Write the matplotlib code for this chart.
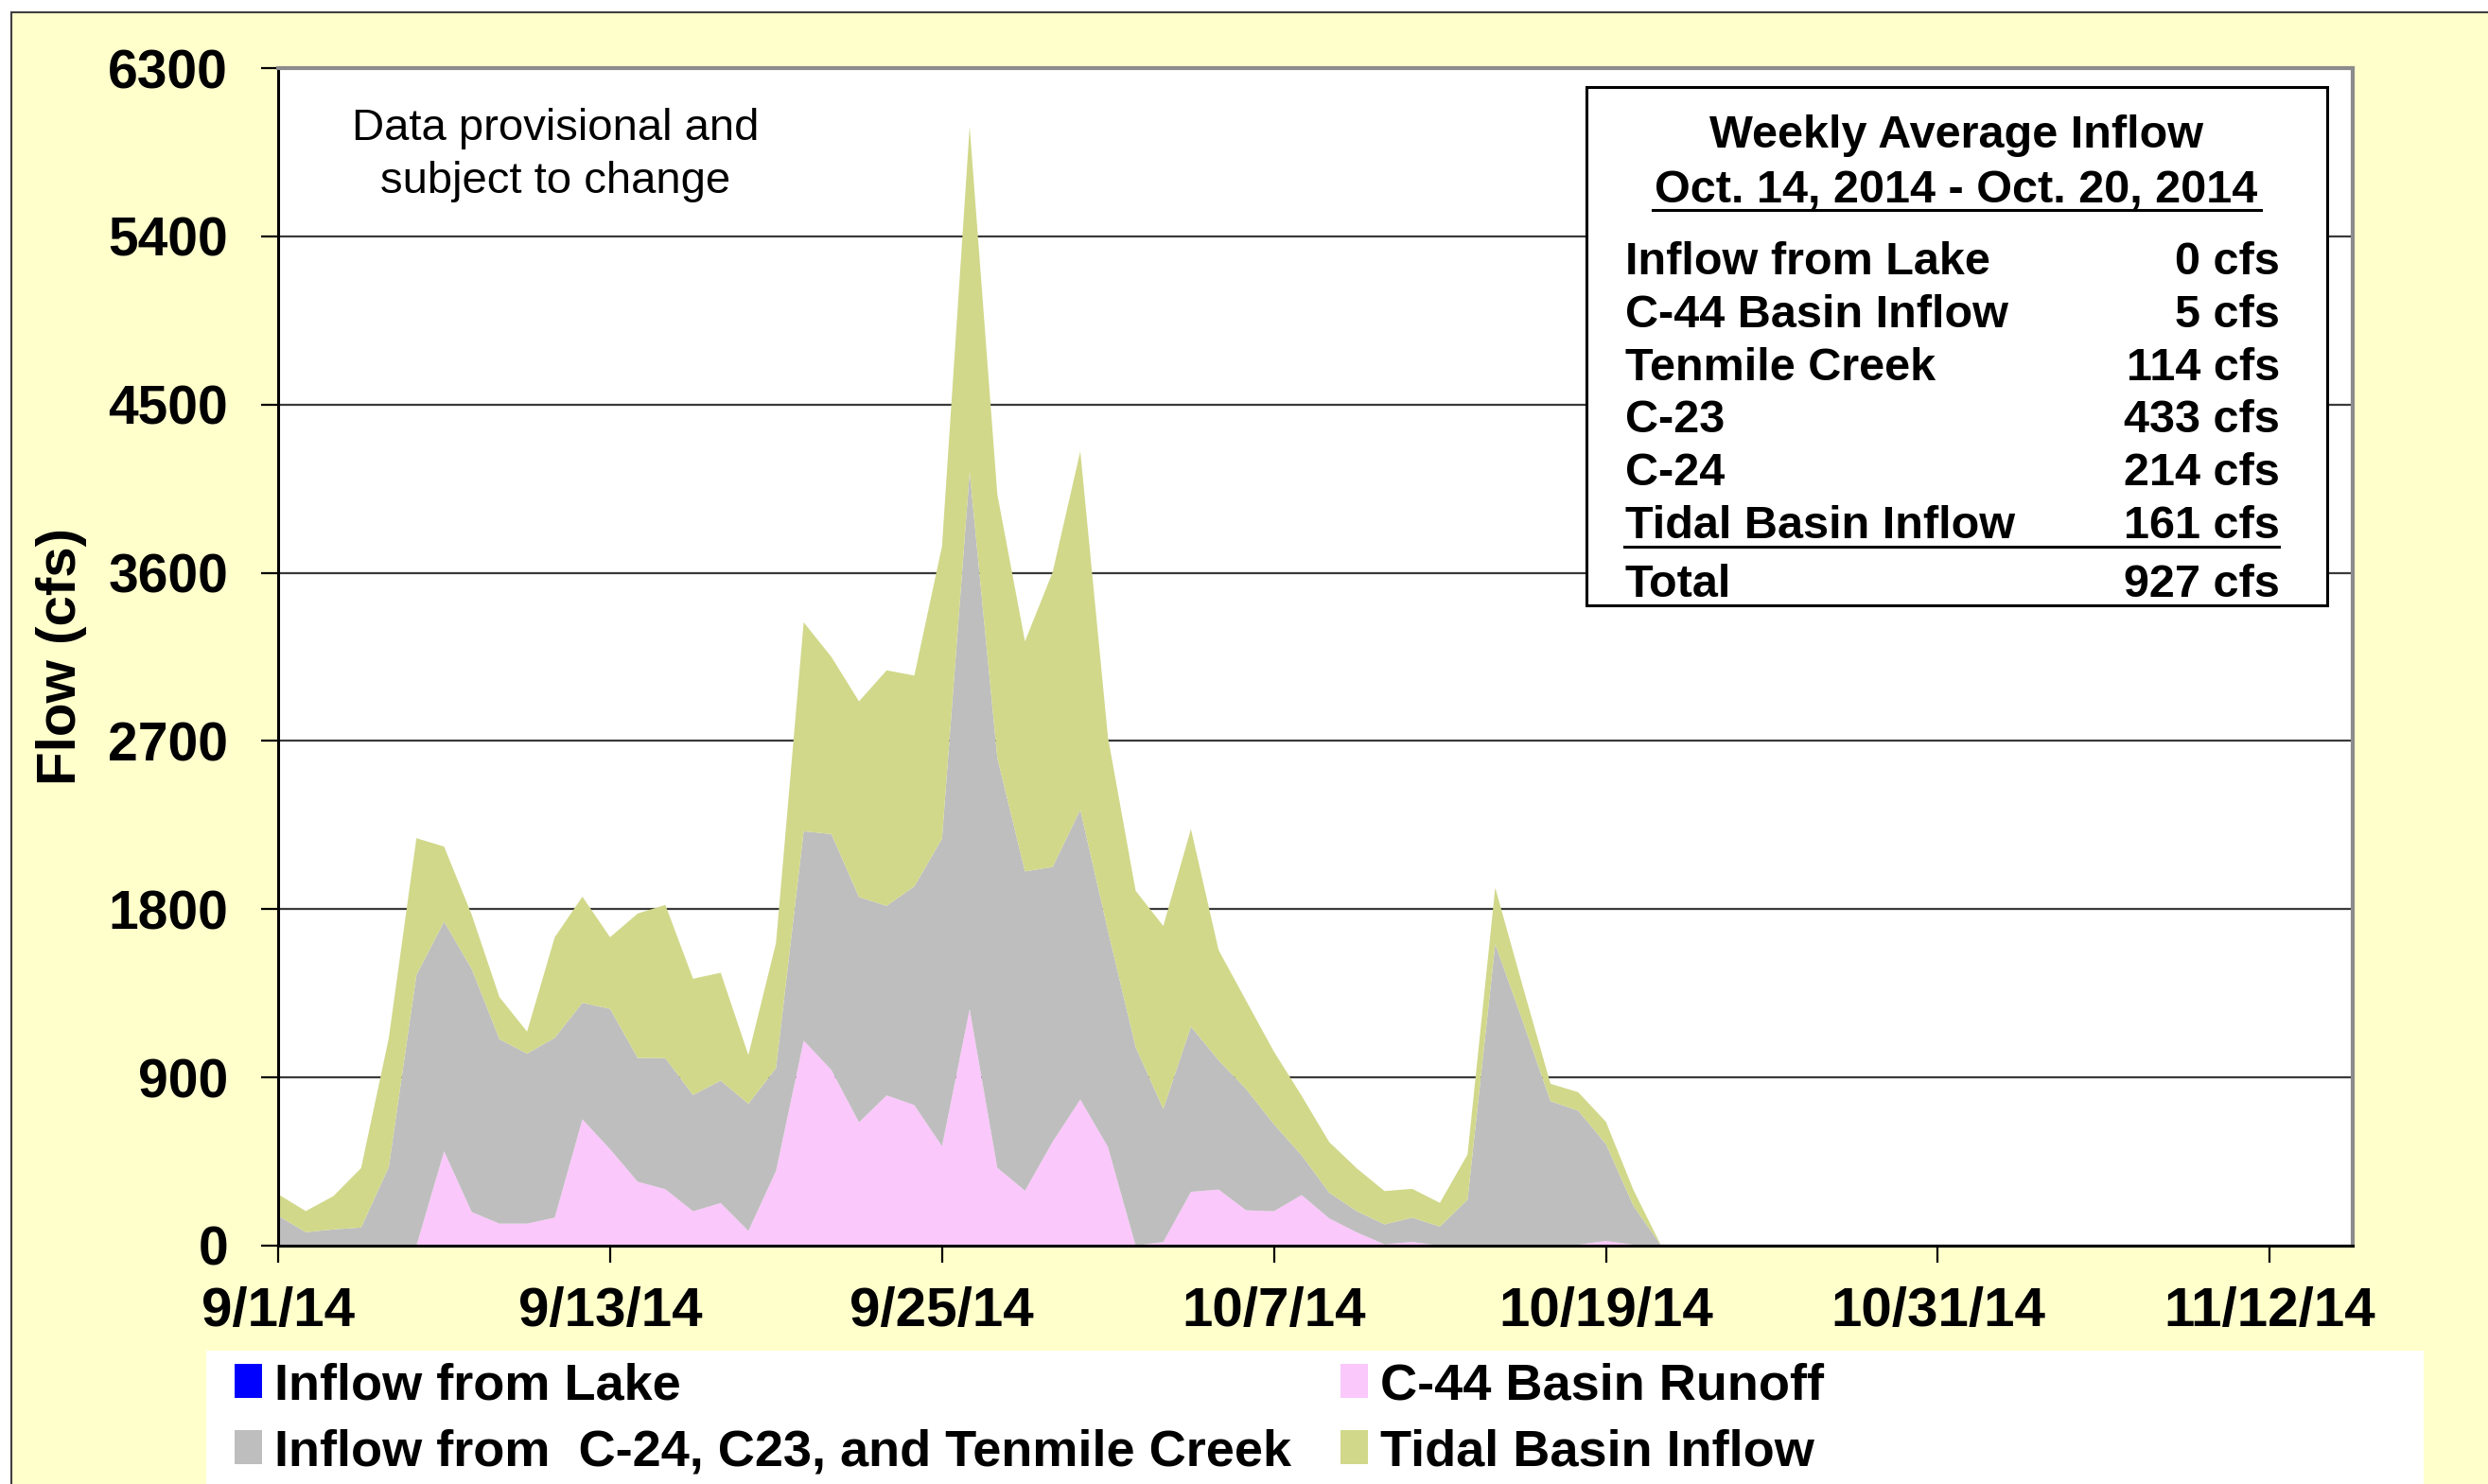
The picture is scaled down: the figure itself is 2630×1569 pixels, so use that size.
import matplotlib
matplotlib.use("Agg")
import matplotlib.pyplot as plt
import matplotlib.dates as mdates
from matplotlib.patches import Rectangle, Patch
from matplotlib.lines import Line2D
from matplotlib.ticker import FuncFormatter
import pandas as pd

plt.rcParams['font.family'] = ['Liberation Sans', 'DejaVu Sans']
plt.rcParams['font.weight'] = 'bold'

# daily inflows (cfs), 9/1/14 - 10/21/14
dates = pd.date_range('2014-09-01', periods=51, freq='D')
lake = [0] * 51
c44 = [0, 0, 0, 0, 0, 0, 505, 180, 118, 118,
       150, 676, 516, 342, 302, 184, 228, 79, 400, 1097,
       940, 660, 804, 752, 532, 1265, 417, 294, 556, 782,
       528, 0, 20, 288, 300, 189, 184, 271, 146, 71,
       7, 20, 0, 0, 0, 0, 0, 5, 25, 5, 0]
basin = [160, 72, 87, 97, 420, 1448, 1228, 1300, 987, 909,
         962, 623, 751, 662, 701, 622, 655, 680, 550, 1120,
         1262, 1205, 1014, 1170, 1645, 2874, 2193, 1708, 1470, 1550,
         1157, 1062, 711, 884, 691, 648, 465, 213, 137, 113,
         107, 130, 102, 246, 1614, 1198, 773, 717, 519, 207, 0]
tidal = [115, 113, 178, 318, 690, 732, 402, 290, 225, 118,
         538, 568, 383, 773, 820, 622, 577, 261, 670, 1118,
         948, 1047, 1260, 1128, 1565, 1847, 1410, 1231, 1577, 1918,
         1035, 837, 979, 1057, 590, 472, 389, 318, 271, 229,
         178, 154, 127, 242, 301, 187, 93, 99, 119, 85, 0]

series_labels = ['Inflow from Lake', 'C-44 Basin Runoff',
                 'Inflow from  C-24, C23, and Tenmile Creek', 'Tidal Basin Inflow']
series_colors = ['#0000FF', '#FAC8FA', '#BEBEBE', '#D1D88A']

tick_dates = pd.date_range('2014-09-01', periods=7, freq='12D')
y_ticks = list(range(0, 6301, 900))

box_title = 'Weekly Average Inflow'
box_period = 'Oct. 14, 2014 - Oct. 20, 2014'
box_rows = ['Inflow from Lake', 'C-44 Basin Inflow', 'Tenmile Creek', 'C-23', 'C-24', 'Tidal Basin Inflow']
box_vals = ['0 cfs', '5 cfs', '114 cfs', '433 cfs', '214 cfs', '161 cfs']
box_total = '927 cfs'

W, H = 2630, 1569
fig = plt.figure(figsize=(W / 100, H / 100), dpi=100, facecolor='white')


def fx(px):
    return px / W


def fy(py):
    return 1 - py / H


# yellow chart area and white legend strip
fig.patches.append(Rectangle((fx(12), fy(H + 30)), fx(W + 30), fy(13) - fy(H + 30),
                             transform=fig.transFigure, facecolor='#FFFFCC',
                             edgecolor='#404040', lw=1.5, zorder=-2))
fig.patches.append(Rectangle((fx(218), fy(H + 10)), fx(2562 - 218), fy(1428) - fy(H + 10),
                             transform=fig.transFigure, facecolor='white',
                             edgecolor='none', zorder=-1))

ax = fig.add_axes([fx(294), fy(1317), fx(2487 - 294), fy(72) - fy(1317)])
ax.set_facecolor('white')
ax.stackplot(dates, lake, c44, basin, tidal, colors=series_colors, lw=0)

ax.set_xlim(pd.Timestamp('2014-09-01'), pd.Timestamp('2014-11-15'))
ax.set_ylim(0, 6300)
ax.set_yticks(y_ticks)
ax.set_xticks(tick_dates)
ax.xaxis.set_major_formatter(FuncFormatter(
    lambda v, p: '{d.month}/{d.day}/{d:%y}'.format(d=mdates.num2date(v))))

ax.grid(axis='y', color='#3a3a3a', lw=1.6)
ax.set_axisbelow(True)
for s in ['left', 'bottom']:
    ax.spines[s].set_color('black')
    ax.spines[s].set_linewidth(2.2)
for s in ['top', 'right']:
    ax.spines[s].set_color('#8c8c8c')
    ax.spines[s].set_linewidth(3)

ax.tick_params(axis='y', length=13, width=1.6, pad=25, labelsize=41)
ax.tick_params(axis='x', length=13, width=1.6, pad=18, labelsize=42)

ax.set_ylabel('Flow (cfs)', fontsize=42, fontweight='bold')
ax.yaxis.set_label_coords(-0.092, 0.5)

fig.text(fx(587), fy(148), 'Data provisional and', ha='center', va='baseline',
         fontsize=34, fontweight='normal')
fig.text(fx(587), fy(204), 'subject to change', ha='center', va='baseline',
         fontsize=34, fontweight='normal')

# weekly summary box
fig.patches.append(Rectangle((fx(1677), fy(640)), fx(2460 - 1677), fy(92) - fy(640),
                             transform=fig.transFigure, facecolor='white',
                             edgecolor='black', lw=2.2, zorder=2))
fs = 35
fig.text(fx(2068), fy(156), box_title, ha='center', va='baseline', fontsize=fs, zorder=3)
fig.text(fx(2068), fy(214), box_period, ha='center', va='baseline', fontsize=fs, zorder=3)
fig.lines.append(Line2D([fx(1747), fx(2390)], [fy(222), fy(222)], transform=fig.transFigure,
                        color='black', lw=2.2, zorder=3))
row_y = [290, 346, 402, 457, 513, 569]
for lab, val, yy in zip(box_rows, box_vals, row_y):
    fig.text(fx(1718), fy(yy), lab, ha='left', va='baseline', fontsize=fs, zorder=3)
    fig.text(fx(2410), fy(yy), val, ha='right', va='baseline', fontsize=fs, zorder=3)
fig.lines.append(Line2D([fx(1717), fx(2409)], [fy(578), fy(578)], transform=fig.transFigure,
                        color='black', lw=2.2, zorder=3))
fig.text(fx(1718), fy(631), 'Total', ha='left', va='baseline', fontsize=fs, zorder=3)
fig.text(fx(2410), fy(631), box_total, ha='right', va='baseline', fontsize=fs, zorder=3)

handles = [Patch(facecolor=c, edgecolor='none') for c in series_colors]
order = [0, 2, 1, 3]
fig.legend([handles[i] for i in order], [series_labels[i] for i in order],
           ncol=2, loc='upper left', bbox_to_anchor=(fx(248), fy(1440)),
           frameon=False, fontsize=39, handlelength=0.535, handleheight=0.63,
           handletextpad=0.24, columnspacing=0.96, labelspacing=0.37,
           borderpad=0, borderaxespad=0)

fig.savefig('out.png', dpi=100, facecolor=fig.get_facecolor())
